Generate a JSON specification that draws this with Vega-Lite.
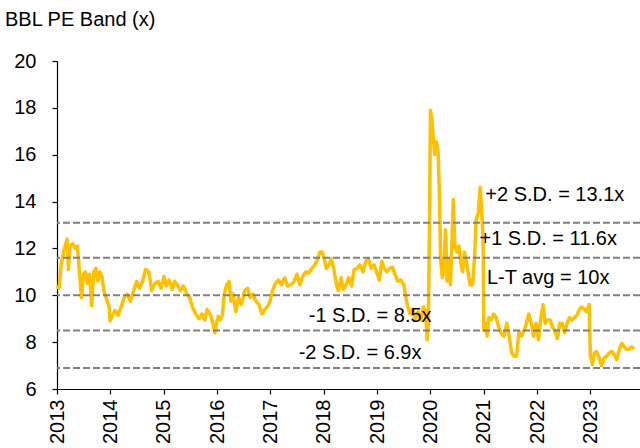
{
  "$schema": "https://vega.github.io/schema/vega-lite/v6.json",
  "width": 583,
  "height": 328,
  "autosize": {"type": "none"},
  "padding": {"left": 57, "top": 61, "right": 0, "bottom": 59},
  "background": "white",
  "config": {
    "view": {"stroke": null},
    "font": "Liberation Sans",
    "axis": {"grid": false, "domainColor": "black", "tickColor": "black", "labelColor": "black", "labelFont": "Liberation Sans", "labelFontSize": 20, "tickSize": 5, "domainWidth": 1.2, "tickWidth": 1.2, "title": null}
  },
  "title": {"text": "BBL PE Band (x)", "anchor": "start", "frame": "group", "dx": -52, "offset": 5, "baseline": "alphabetic", "fontSize": 20, "fontWeight": "normal", "font": "Liberation Sans", "color": "black"},
  "layer": [
    {
      "data": {"values": [
        {"t":2013.000,"v":10.4},{"t":2013.040,"v":10.3},{"t":2013.077,"v":11.3},{"t":2013.138,"v":12.0},{"t":2013.191,"v":12.4},{"t":2013.214,"v":11.1},{"t":2013.245,"v":12.1},{"t":2013.291,"v":12.2},{"t":2013.344,"v":12.0},{"t":2013.383,"v":12.1},{"t":2013.421,"v":11.0},{"t":2013.459,"v":9.9},{"t":2013.497,"v":10.9},{"t":2013.536,"v":11.0},{"t":2013.574,"v":10.5},{"t":2013.612,"v":10.9},{"t":2013.650,"v":9.55},{"t":2013.689,"v":11.0},{"t":2013.727,"v":11.15},{"t":2013.765,"v":10.6},{"t":2013.803,"v":11.0},{"t":2013.842,"v":10.8},{"t":2013.880,"v":10.2},{"t":2013.933,"v":9.8},{"t":2013.979,"v":9.5},{"t":2013.995,"v":8.9},
        {"t":2014.033,"v":9.1},{"t":2014.086,"v":9.35},{"t":2014.148,"v":9.15},{"t":2014.209,"v":9.55},{"t":2014.262,"v":9.9},{"t":2014.316,"v":10.05},{"t":2014.377,"v":9.75},{"t":2014.438,"v":10.2},{"t":2014.492,"v":10.6},{"t":2014.546,"v":10.3},{"t":2014.607,"v":10.6},{"t":2014.660,"v":11.1},{"t":2014.721,"v":11.0},{"t":2014.776,"v":10.2},{"t":2014.836,"v":10.5},{"t":2014.897,"v":10.6},{"t":2014.951,"v":10.3},
        {"t":2015.005,"v":10.8},{"t":2015.050,"v":10.4},{"t":2015.104,"v":10.65},{"t":2015.158,"v":10.25},{"t":2015.204,"v":10.6},{"t":2015.257,"v":10.45},{"t":2015.311,"v":10.2},{"t":2015.372,"v":10.4},{"t":2015.425,"v":10.1},{"t":2015.487,"v":9.9},{"t":2015.540,"v":9.5},{"t":2015.601,"v":9.2},{"t":2015.663,"v":9.0},{"t":2015.716,"v":9.2},{"t":2015.770,"v":8.95},{"t":2015.816,"v":9.4},{"t":2015.869,"v":9.2},{"t":2015.923,"v":8.8},{"t":2015.961,"v":8.4},{"t":2015.992,"v":8.8},
        {"t":2016.022,"v":9.1},{"t":2016.060,"v":8.95},{"t":2016.099,"v":9.15},{"t":2016.137,"v":10.05},{"t":2016.183,"v":10.45},{"t":2016.229,"v":10.6},{"t":2016.259,"v":9.75},{"t":2016.305,"v":10.05},{"t":2016.351,"v":9.3},{"t":2016.405,"v":9.9},{"t":2016.458,"v":9.6},{"t":2016.519,"v":10.2},{"t":2016.573,"v":10.3},{"t":2016.619,"v":9.9},{"t":2016.672,"v":10.05},{"t":2016.726,"v":9.75},{"t":2016.787,"v":9.6},{"t":2016.841,"v":9.2},{"t":2016.902,"v":9.4},{"t":2016.956,"v":9.55},{"t":2016.994,"v":9.75},
        {"t":2017.040,"v":10.2},{"t":2017.093,"v":10.5},{"t":2017.147,"v":10.65},{"t":2017.208,"v":10.45},{"t":2017.269,"v":10.75},{"t":2017.323,"v":10.4},{"t":2017.376,"v":10.45},{"t":2017.438,"v":10.55},{"t":2017.499,"v":10.9},{"t":2017.552,"v":10.45},{"t":2017.606,"v":10.8},{"t":2017.667,"v":11.0},{"t":2017.721,"v":10.95},{"t":2017.782,"v":11.15},{"t":2017.835,"v":11.3},{"t":2017.881,"v":11.5},{"t":2017.927,"v":11.85},{"t":2017.973,"v":11.85},
        {"t":2018.011,"v":11.55},{"t":2018.050,"v":11.15},{"t":2018.103,"v":11.3},{"t":2018.141,"v":11.55},{"t":2018.187,"v":11.15},{"t":2018.241,"v":10.45},{"t":2018.279,"v":10.2},{"t":2018.325,"v":10.75},{"t":2018.371,"v":10.25},{"t":2018.417,"v":10.45},{"t":2018.471,"v":10.75},{"t":2018.524,"v":10.4},{"t":2018.570,"v":11.1},{"t":2018.624,"v":11.15},{"t":2018.677,"v":11.3},{"t":2018.738,"v":11.0},{"t":2018.792,"v":11.45},{"t":2018.838,"v":11.55},{"t":2018.891,"v":11.15},{"t":2018.945,"v":11.3},{"t":2018.991,"v":11.0},
        {"t":2019.044,"v":10.65},{"t":2019.090,"v":11.45},{"t":2019.136,"v":11.15},{"t":2019.182,"v":11.0},{"t":2019.236,"v":11.15},{"t":2019.289,"v":11.2},{"t":2019.335,"v":10.9},{"t":2019.389,"v":10.6},{"t":2019.442,"v":10.65},{"t":2019.503,"v":10.45},{"t":2019.542,"v":9.9},{"t":2019.580,"v":9.5},{"t":2019.618,"v":9.2},{"t":2019.672,"v":9.4},{"t":2019.718,"v":9.0},{"t":2019.771,"v":9.3},{"t":2019.825,"v":8.95},{"t":2019.871,"v":9.5},{"t":2019.909,"v":9.35},{"t":2019.940,"v":8.1},{"t":2019.962,"v":8.95},{"t":2019.985,"v":13.2},
        {"t":2020.001,"v":17.9},{"t":2020.024,"v":17.6},{"t":2020.054,"v":16.7},{"t":2020.085,"v":16.0},{"t":2020.115,"v":16.55},{"t":2020.146,"v":16.1},{"t":2020.169,"v":14.3},{"t":2020.192,"v":11.55},{"t":2020.223,"v":10.75},{"t":2020.253,"v":11.15},{"t":2020.284,"v":12.8},{"t":2020.314,"v":10.6},{"t":2020.345,"v":11.55},{"t":2020.376,"v":10.45},{"t":2020.406,"v":12.4},{"t":2020.429,"v":14.1},{"t":2020.460,"v":12.1},{"t":2020.498,"v":11.85},{"t":2020.536,"v":12.1},{"t":2020.575,"v":11.3},{"t":2020.605,"v":11.0},{"t":2020.636,"v":11.85},{"t":2020.666,"v":11.55},{"t":2020.705,"v":11.0},{"t":2020.743,"v":10.45},{"t":2020.789,"v":10.45},{"t":2020.827,"v":11.55},{"t":2020.858,"v":13.2},{"t":2020.896,"v":13.5},{"t":2020.934,"v":14.6},{"t":2020.957,"v":13.8},{"t":2020.988,"v":12.4},
        {"t":2021.003,"v":8.5},{"t":2021.034,"v":8.8},{"t":2021.064,"v":8.25},{"t":2021.095,"v":9.05},{"t":2021.141,"v":8.95},{"t":2021.187,"v":9.2},{"t":2021.233,"v":9.05},{"t":2021.279,"v":8.65},{"t":2021.324,"v":8.4},{"t":2021.378,"v":8.25},{"t":2021.432,"v":8.8},{"t":2021.478,"v":8.25},{"t":2021.523,"v":7.55},{"t":2021.569,"v":7.4},{"t":2021.615,"v":7.4},{"t":2021.661,"v":8.45},{"t":2021.707,"v":8.25},{"t":2021.760,"v":8.5},{"t":2021.799,"v":8.8},{"t":2021.845,"v":9.2},{"t":2021.891,"v":8.8},{"t":2021.936,"v":8.25},{"t":2021.982,"v":8.8},
        {"t":2022.028,"v":8.1},{"t":2022.066,"v":8.95},{"t":2022.112,"v":9.6},{"t":2022.151,"v":8.8},{"t":2022.197,"v":8.95},{"t":2022.243,"v":8.95},{"t":2022.288,"v":8.65},{"t":2022.334,"v":8.5},{"t":2022.380,"v":8.15},{"t":2022.426,"v":8.8},{"t":2022.472,"v":8.8},{"t":2022.518,"v":8.4},{"t":2022.564,"v":8.8},{"t":2022.610,"v":9.05},{"t":2022.656,"v":8.95},{"t":2022.702,"v":9.05},{"t":2022.748,"v":9.15},{"t":2022.793,"v":9.4},{"t":2022.839,"v":9.5},{"t":2022.885,"v":9.4},{"t":2022.931,"v":9.3},{"t":2022.977,"v":9.6},
        {"t":2023.000,"v":7.4},{"t":2023.038,"v":7.05},{"t":2023.077,"v":7.55},{"t":2023.115,"v":7.6},{"t":2023.161,"v":7.35},{"t":2023.207,"v":7.0},{"t":2023.253,"v":7.3},{"t":2023.306,"v":7.4},{"t":2023.360,"v":7.55},{"t":2023.406,"v":7.6},{"t":2023.451,"v":7.45},{"t":2023.497,"v":7.25},{"t":2023.543,"v":7.7},{"t":2023.589,"v":7.95},{"t":2023.635,"v":7.8},{"t":2023.681,"v":7.7},{"t":2023.727,"v":7.7},{"t":2023.773,"v":7.8},{"t":2023.819,"v":7.7}
      ]},
      "mark": {"type": "line", "color": "#FFC000", "strokeWidth": 3.5, "strokeJoin": "round"},
      "encoding": {
        "x": {"field": "t", "type": "quantitative", "scale": {"domain": [2013, 2023.93], "nice": false, "zero": false},
          "axis": {"values": [2013,2014,2015,2016,2017,2018,2019,2020,2021,2022,2023], "format": "d", "labelAngle": -90, "labelPadding": 5, "labelFlush": false, "labelOverlap": false}},
        "y": {"field": "v", "type": "quantitative", "scale": {"domain": [6, 20], "nice": false, "zero": false},
          "axis": {"values": [6,8,10,12,14,16,18,20], "labelPadding": 16}}
      }
    },
    {
      "data": {"values": [{"v": 13.1}, {"v": 11.6}, {"v": 10}, {"v": 8.5}, {"v": 6.9}]},
      "mark": {"type": "rule", "color": "#808080", "strokeWidth": 2, "strokeDash": [7, 3]},
      "encoding": {"y": {"field": "v", "type": "quantitative"}}
    },
    {
      "data": {"values": [
        {"t": 2021.03, "v": 14.27, "label": "+2 S.D. = 13.1x"},
        {"t": 2020.92, "v": 12.4, "label": "+1 S.D. = 11.6x"},
        {"t": 2021.06, "v": 10.75, "label": "L-T avg = 10x"},
        {"t": 2017.72, "v": 9.1, "label": "-1 S.D. = 8.5x"},
        {"t": 2017.53, "v": 7.52, "label": "-2 S.D. = 6.9x"}
      ]},
      "mark": {"type": "text", "align": "left", "baseline": "middle", "fontSize": 20, "font": "Liberation Sans", "color": "black"},
      "encoding": {
        "x": {"field": "t", "type": "quantitative"},
        "y": {"field": "v", "type": "quantitative"},
        "text": {"field": "label"}
      }
    }
  ]
}
